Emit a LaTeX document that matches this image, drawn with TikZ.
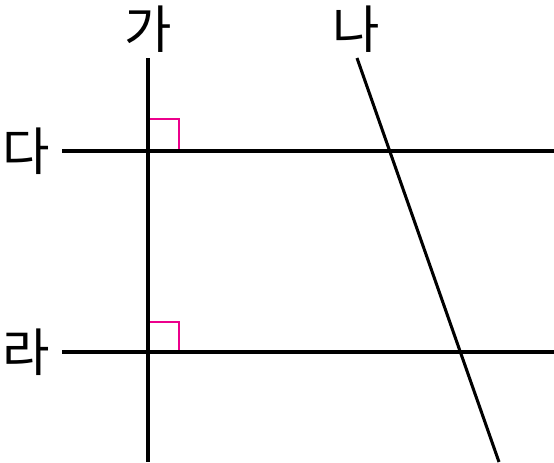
\documentclass[tikz,border=0pt]{standalone}
\usepackage{fontspec}
\newfontfamily\kr{Noto Sans CJK KR}
\usepackage{tikz}
\usetikzlibrary{positioning,calc}

\begin{document}
\begin{tikzpicture}[x=0.03cm, y=-0.03cm,
    lbl/.style={font=\kr\fontsize{44}{48}\selectfont, inner sep=0pt},
    ln/.style={line width=2.6pt},
    ra/.style={magenta, line width=1.1pt}]
  \useasboundingbox (0,0) rectangle (554,462);

  % labels
  \node[lbl] (ga) at (148,29) {가};
  \node[lbl] (na) at (356,29) {나};
  \node[lbl] (da) at (26,151) {다};
  \node[lbl] (ra) at (26,352) {라};

  % line ends
  \coordinate (gatop) at (148,58);
  \coordinate (gabot) at (148,462);
  \coordinate (natop) at (357,58);
  \coordinate (nabot) at (499,462);
  \coordinate (dal) at (62,151);
  \coordinate (dar) at (554,151);
  \coordinate (ral) at (62,352);
  \coordinate (rar) at (554,352);

  % right angle marks
  \draw[ra] (148,119) -- (179,119) -- (179,151);
  \draw[ra] (148,322) -- (179,322) -- (179,352);

  \draw[ln] (gatop) -- (gabot);
  \draw[ln] (natop) -- (nabot);
  \draw[ln] (dal) -- (dar);
  \draw[ln] (ral) -- (rar);
\end{tikzpicture}
\end{document}
